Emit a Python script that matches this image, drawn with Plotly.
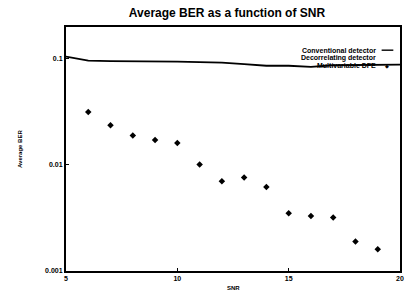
import plotly.graph_objects as go

snr_conv = [5, 6, 7, 8, 9, 10, 11, 12, 13, 14, 15, 16, 17, 18, 19, 20]
ber_conv = [0.105, 0.096, 0.095, 0.095, 0.094, 0.094, 0.093, 0.092, 0.089,
            0.086, 0.086, 0.084, 0.087, 0.087, 0.087, 0.088]

snr_dfe = [6, 7, 8, 9, 10, 11, 12, 13, 14, 15, 16, 17, 18, 19]
ber_dfe = [0.0315, 0.0236, 0.0189, 0.0172, 0.0161, 0.0101, 0.0070, 0.0076,
           0.0062, 0.0035, 0.0033, 0.0032, 0.0019, 0.0016]

x_ticks = [5, 10, 15, 20]
y_ticks = [0.001, 0.01, 0.1]
y_tick_text = ["0.001", "0.01", "0.1"]

legend_names = ["Conventional detector", "Decorrelating detector", "Multivariable DFE"]

FONT = "Liberation Sans"

fig = go.Figure()
fig.add_trace(go.Scatter(x=snr_conv, y=ber_conv, mode="lines",
                         line=dict(color="black", width=1.8), name=legend_names[0],
                         showlegend=False))
fig.add_trace(go.Scatter(x=snr_dfe, y=ber_dfe, mode="markers",
                         marker=dict(symbol="diamond", size=5, color="black"),
                         name=legend_names[2], showlegend=False))

# legend drawn manually (text right-aligned, sample on the right)
ys = [0.905, 0.873, 0.841]
for name, yy in zip(legend_names, ys):
    fig.add_annotation(x=0.935, y=yy, xref="paper", yref="paper", text="<b>" + name + "</b>",
                       showarrow=False, xanchor="right", yanchor="middle",
                       font=dict(family=FONT, size=7, color="black"))
fig.add_shape(type="line", xref="paper", yref="paper", x0=0.945, x1=0.98, y0=ys[0], y1=ys[0],
              line=dict(color="black", width=1.4))
fig.add_annotation(x=0.962, y=ys[2], xref="paper", yref="paper", text="◆",
                   showarrow=False, xanchor="center", yanchor="middle",
                   font=dict(family="DejaVu Sans", size=5, color="black"))

# axis titles as annotations (fixed positions)
fig.add_annotation(x=0.5, y=0, xref="paper", yref="paper", yshift=-17, text="<b>SNR</b>",
                   showarrow=False, xanchor="center", yanchor="middle",
                   font=dict(family=FONT, size=6, color="black"))
fig.add_annotation(x=0, y=0.5, xref="paper", yref="paper", xshift=-46, text="<b>Average BER</b>",
                   textangle=-90, showarrow=False, xanchor="center", yanchor="middle",
                   font=dict(family=FONT, size=6, color="black"))

fig.update_layout(
    width=409, height=291,
    margin=dict(l=66, r=9, t=27, b=20),
    paper_bgcolor="white", plot_bgcolor="white",
    title=dict(text="<b>Average BER as a function of SNR</b>", x=0.555, xanchor="center",
               y=0.955, yanchor="middle", font=dict(family=FONT, size=12, color="black")),
    font=dict(family=FONT, color="black"),
)
fig.update_xaxes(range=[5, 20], tickvals=x_ticks, ticktext=["<b>%d</b>" % t for t in x_ticks],
                 ticks="inside", ticklen=3, tickcolor="black", showgrid=False, zeroline=False,
                 showline=True, linecolor="black", linewidth=2, mirror=True,
                 ticklabeloverflow="allow", automargin=False,
                 tickfont=dict(family=FONT, size=7, color="black"))
fig.update_yaxes(type="log", range=[-3, -0.7], tickvals=y_ticks,
                 ticktext=["<b>%s</b>" % t for t in y_tick_text],
                 ticks="inside", ticklen=3, tickcolor="black", showgrid=False, zeroline=False,
                 showline=True, linecolor="black", linewidth=2, mirror=True, automargin=False,
                 tickfont=dict(family=FONT, size=7, color="black"))

fig.write_html("out.html", post_script="document.body.style.margin='0';",
               config={"displayModeBar": False})
